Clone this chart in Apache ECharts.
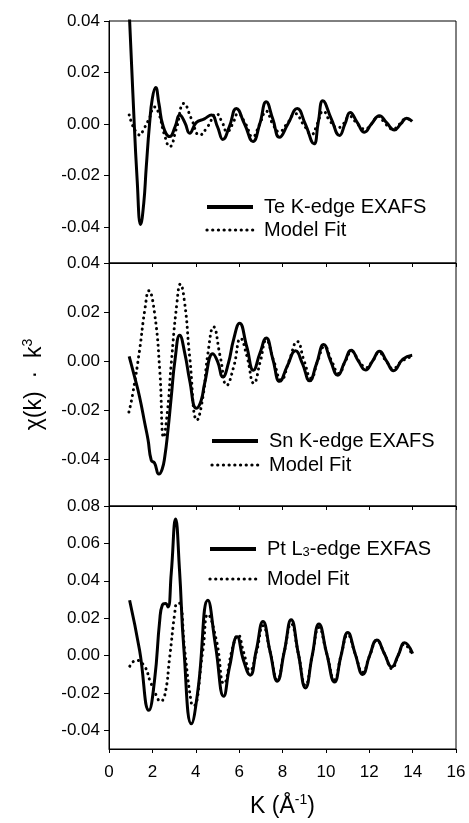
<!DOCTYPE html>
<html>
<head>
<meta charset="utf-8">
<script src="https://cdn.jsdelivr.net/npm/echarts@6/dist/echarts.min.js"></script>
<style>
html, body { margin: 0; padding: 0; background: #fff; }
#chart { width: 469px; height: 823px; }
</style>
</head>
<body>
<div id="chart"></div>
<script>
// [K, chi(k)*k^3]
const teExp = [[0.92,0.046],[1.1,0.012],[1.3,-0.022],[1.46,-0.039],[1.6,-0.031],[1.72,-0.0165],[1.87,0],[2.0,0.01],[2.15,0.0142],[2.3,0.008],[2.5,-0.001],[2.8,-0.0049],[3.05,-0.001],[3.26,0.0035],[3.5,0.0005],[3.72,-0.0036],[4.02,0.0005],[4.4,0.002],[4.72,0.0035],[5.0,-0.001],[5.25,-0.006],[5.55,-0.001],[5.87,0.006],[6.25,0],[6.64,-0.0068],[6.95,0],[7.25,0.0086],[7.55,0.002],[7.86,-0.0052],[8.25,0],[8.68,0.006],[9.05,0],[9.45,-0.0077],[9.65,0.0007],[9.86,0.009],[10.25,0.002],[10.63,-0.0045],[10.88,0],[11.12,0.0045],[11.45,0.0005],[11.78,-0.0032],[12.1,0],[12.47,0.0032],[12.8,0.0005],[13.16,-0.0023],[13.45,0],[13.73,0.0022],[13.98,0.001]];
const teFit = [[0.93,0.0035],[1.1,-0.0008],[1.25,-0.003],[1.42,-0.0043],[1.6,-0.002],[1.85,0.002],[2.1,0.0066],[2.3,0.004],[2.55,-0.004],[2.8,-0.0088],[3.1,-0.002],[3.46,0.008],[3.8,0.002],[4.18,-0.0043],[4.55,-0.001],[4.95,0.004],[5.2,0.001],[5.45,-0.003],[5.7,0],[5.95,0.004],[6.3,0],[6.62,-0.005],[6.95,0],[7.25,0.005],[7.55,0],[7.85,-0.003],[8.2,0],[8.6,0.004],[8.95,0],[9.35,-0.004],[9.6,0],[9.88,0.005],[10.2,0.001],[10.55,-0.0015],[10.8,0],[11.1,0.003],[11.45,0],[11.8,-0.002],[12.1,0],[12.42,0.003],[12.75,0],[13.1,-0.002],[13.4,0],[13.7,0.002],[13.98,0.0015]];

const snExp = [[0.93,0.002],[1.18,-0.0064],[1.41,-0.0146],[1.65,-0.0253],[1.8,-0.032],[1.95,-0.0404],[2.1,-0.0415],[2.3,-0.046],[2.45,-0.044],[2.57,-0.039],[2.72,-0.028],[2.87,-0.0146],[3.05,0.001],[3.26,0.0106],[3.5,0.003],[3.72,-0.0078],[4.03,-0.0192],[4.25,-0.016],[4.41,-0.009],[4.79,0.003],[5.0,0],[5.25,-0.0064],[5.5,-0.001],[5.75,0.009],[6.02,0.0155],[6.35,0.006],[6.66,-0.0037],[6.95,0.003],[7.25,0.0094],[7.55,0.001],[7.87,-0.0082],[8.22,-0.002],[8.6,0.0042],[8.92,-0.001],[9.25,-0.008],[9.57,-0.001],[9.9,0.0068],[10.22,0],[10.55,-0.0057],[10.86,-0.0005],[11.17,0.0045],[11.5,0],[11.83,-0.0036],[12.15,0],[12.47,0.004],[12.8,0],[13.12,-0.0039],[13.55,0.0008],[13.98,0.0024]];
const snFit = [[0.92,-0.0207],[1.1,-0.013],[1.41,0.0045],[1.65,0.0208],[1.84,0.0287],[2.1,0.0196],[2.34,-0.0037],[2.52,-0.031],[2.7,-0.02],[2.87,-0.001],[3.13,0.0235],[3.29,0.0314],[3.49,0.0237],[3.72,0.0018],[4.06,-0.024],[4.33,-0.0146],[4.56,0.0031],[4.82,0.014],[5.13,0.0018],[5.43,-0.0098],[5.75,-0.0023],[6.07,0.0093],[6.36,0.002],[6.68,-0.009],[6.98,0],[7.25,0.0085],[7.6,0],[7.94,-0.0077],[8.3,0],[8.68,0.008],[9.0,0],[9.32,-0.007],[9.62,0],[9.94,0.006],[10.27,0],[10.6,-0.005],[10.9,0],[11.2,0.004],[11.53,0],[11.86,-0.0026],[12.15,0],[12.45,0.0035],[12.78,0],[13.1,-0.003],[13.5,0],[13.98,0.002]];

const ptExp = [[0.95,0.0296],[1.41,0.0028],[1.84,-0.0293],[2.1,-0.0132],[2.34,0.0189],[2.46,0.027],[2.61,0.0278],[2.72,0.026],[2.87,0.044],[3.07,0.073],[3.25,0.046],[3.45,0.004],[3.8,-0.0365],[4.1,-0.0186],[4.56,0.0296],[4.92,0.0046],[5.29,-0.0218],[5.56,-0.006],[5.91,0.010],[6.2,-0.0025],[6.51,-0.0105],[6.79,0.0028],[7.1,0.0182],[7.43,0.002],[7.76,-0.0137],[8.08,0.002],[8.4,0.0191],[8.73,0.001],[9.06,-0.0173],[9.37,0],[9.68,0.0169],[10.04,0.001],[10.4,-0.0142],[10.7,0],[11.01,0.0123],[11.35,0.001],[11.7,-0.0101],[12.02,0],[12.35,0.0083],[12.7,0.001],[13.04,-0.0061],[13.33,0],[13.63,0.0068],[14.0,0.001]];
const ptFit = [[0.96,-0.0057],[1.26,-0.0025],[1.65,-0.006],[1.88,-0.0132],[2.18,-0.0213],[2.37,-0.0245],[2.57,-0.0213],[2.8,-0.0007],[3.03,0.0225],[3.13,0.0278],[3.25,0.028],[3.49,0.0028],[3.8,-0.0257],[3.9,-0.027],[4.33,0.0028],[4.56,0.022],[4.95,0.0082],[5.3,-0.015],[5.71,0.0046],[5.95,0.011],[6.2,0.002],[6.5,-0.008],[6.8,0.002],[7.1,0.016],[7.43,0.002],[7.76,-0.013],[8.08,0.002],[8.4,0.017],[8.73,0.001],[9.06,-0.016],[9.37,0],[9.68,0.015],[10.04,0.001],[10.4,-0.013],[10.7,0],[11.01,0.011],[11.35,0.001],[11.7,-0.009],[12.02,0],[12.35,0.008],[12.7,0.001],[13.05,-0.007],[13.33,0],[13.6,0.006],[14.0,0]];

const names = ['Te K-edge EXAFS', 'Sn K-edge EXAFS', 'Pt L3-edge EXFAS'];
const fitName = 'Model Fit';
const yTicks = [
  [-0.04, -0.02, 0, 0.02, 0.04],
  [-0.04, -0.02, 0, 0.02, 0.04],
  [-0.04, -0.02, 0, 0.02, 0.04, 0.06, 0.08]
];
const yRanges = [[-0.054, 0.04], [-0.059, 0.04], [-0.05, 0.08]];

const font = "'Liberation Sans', Arial, sans-serif";
const chart = echarts.init(document.getElementById('chart'));

const grids = [
  { left: 109, right: 13, top: 21, height: 242 },
  { left: 109, right: 13, top: 263, height: 243 },
  { left: 109, right: 13, top: 506, height: 243 }
].map(g => Object.assign(g, { show: true, borderColor: '#000', borderWidth: 1, backgroundColor: 'transparent' }));

const xAxes = [0, 1, 2].map(i => ({
  type: 'value',
  gridIndex: i,
  min: 0,
  max: 16,
  interval: 2,
  axisLine: { onZero: false, lineStyle: { color: '#000', width: 1 } },
  axisTick: { show: true, length: 4, lineStyle: { color: '#000' } },
  axisLabel: { show: i === 2, fontSize: 17, fontFamily: font, color: '#000', margin: 15 },
  splitLine: { show: false },
  name: i === 2 ? 'K (Å{sup|-1})' : '',
  nameLocation: 'middle',
  nameGap: 44,
  nameTextStyle: {
    fontSize: 23, fontFamily: font, color: '#000', lineHeight: 28,
    rich: { sup: { fontSize: 14, fontFamily: font, color: '#000', verticalAlign: 'top', lineHeight: 14 } }
  }
}));

const yAxes = [0, 1, 2].map(i => ({
  type: 'value',
  gridIndex: i,
  min: yRanges[i][0],
  max: yRanges[i][1],
  axisLine: { show: true, onZero: false, lineStyle: { color: '#000', width: 1 } },
  axisTick: { show: true, length: 5, customValues: yTicks[i], lineStyle: { color: '#000' } },
  axisLabel: {
    fontSize: 17, fontFamily: font, color: '#000', margin: 9,
    customValues: yTicks[i],
    formatter: v => v.toFixed(2)
  },
  splitLine: { show: false },
  name: i === 1 ? 'χ(k)  ·  k{sup|3}' : '',
  nameLocation: 'middle',
  nameGap: 60,
  nameTextStyle: {
    fontSize: 23, fontFamily: font, color: '#000', lineHeight: 28,
    rich: { sup: { fontSize: 14, fontFamily: font, color: '#000', verticalAlign: 'top', lineHeight: 14 } }
  }
}));

const expData = [teExp, snExp, ptExp];
const fitData = [teFit, snFit, ptFit];
const series = [];
[0, 1, 2].forEach(i => {
  series.push({
    name: names[i], type: 'line', xAxisIndex: i, yAxisIndex: i,
    data: expData[i], symbol: 'circle', showSymbol: false, smooth: 0.5,
    lineStyle: { color: '#000', width: 3 }, itemStyle: { color: '#000' }
  });
  series.push({
    name: fitName, type: 'line', xAxisIndex: i, yAxisIndex: i,
    data: fitData[i], symbol: 'circle', showSymbol: false, smooth: 0.5,
    lineStyle: { color: '#000', width: 3, type: [0.1, 5.5], cap: 'round' }, itemStyle: { color: '#000' }
  });
});

const legendPos = [
  { left: 205, top: 197, itemGap: 3 },
  { left: 210, top: 431, itemGap: 4 },
  { left: 208, top: 539, itemGap: 10 }
];
const hiddenMark = { color: 'rgba(0,0,0,0)', borderColor: 'rgba(0,0,0,0)', borderWidth: 0 };
const legends = legendPos.map((p, i) => ({
  orient: 'vertical',
  left: p.left,
  top: p.top,
  padding: 0,
  itemGap: p.itemGap,
  itemWidth: 46,
  itemHeight: 14,
  selectedMode: false,
  itemStyle: hiddenMark,
  data: [
    { name: names[i], lineStyle: { width: 4 }, itemStyle: hiddenMark },
    { name: fitName, lineStyle: { width: 3.2, type: [0.1, 5.6], cap: 'round' }, itemStyle: hiddenMark }
  ],
  formatter: name => name === names[2] ? 'Pt L{sub|3}-edge EXFAS' : name,
  textStyle: {
    fontSize: 20, fontFamily: font, color: '#000', padding: [0, 0, 0, 6],
    rich: { sub: { fontSize: 13, fontFamily: font, color: '#000', verticalAlign: 'bottom', lineHeight: 13 } }
  }
}));

chart.setOption({
  animation: false,
  backgroundColor: '#fff',
  grid: grids,
  xAxis: xAxes,
  yAxis: yAxes,
  legend: legends,
  series: series
});
</script>
</body>
</html>
